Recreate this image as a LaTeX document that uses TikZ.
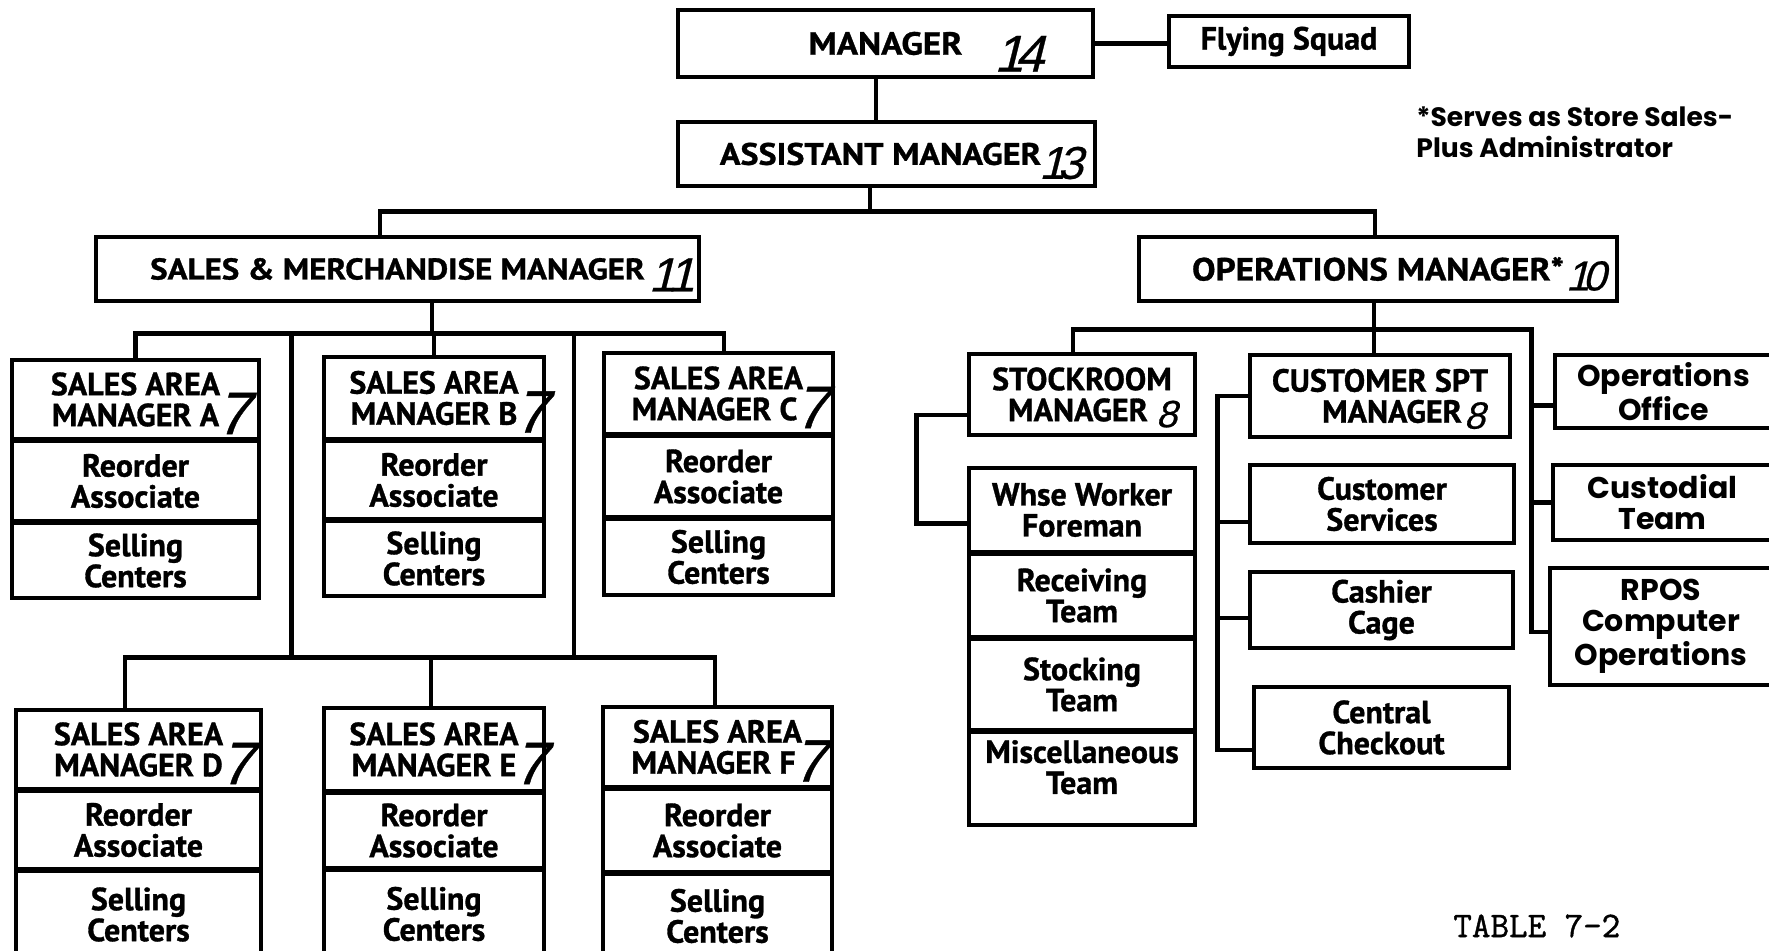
\documentclass[tikz,border=0pt]{standalone}
\usepackage{fontspec}
\setmainfont{PT Sans}[BoldFeatures={FakeBold=1}]
\newfontfamily\headfont{PT Sans}[FakeStretch=1.1,BoldFeatures={FakeBold=1}]
\newfontfamily\handfont{Liberation Sans}[FakeSlant=0.25,FakeBold=0.6]
\newfontfamily\geofont{Poppins}
\newfontfamily\twfont{Latin Modern Mono}[FakeBold=1.2]
\usetikzlibrary{calc}
% handwritten number: hspace, size, raise, text
\newcommand\hnum[4]{\rlap{\smash{\hspace*{#1}\raisebox{#3}{\handfont\mdseries\fontsize{#2}{#2}\selectfont #4}}}}
\newcommand\one{1\kern-0.16em}
\newcommand\sev{\hnum{-1.5pt}{30}{-4pt}{7}}
% box: [opts]{name}{x1}{y1}{x2}{y2}{text}
\newcommand\obox[7][]{\node[orgbox,#1,minimum width={(#5-#3)*0.5pt},minimum height={(#6-#4)*0.5pt}] (#2) at ({(#3+#5)/2},{(#4+#6)/2}) {#7};}
\begin{document}
\begin{tikzpicture}[x=0.5pt,y=-0.5pt,
  orgbox/.style={draw, line width=1.6pt, inner sep=0pt, align=center,
    font={\fontsize{16}{15.5}\selectfont\bfseries}},
  geo/.style={font={\geofont\fontsize{15}{15.5}\selectfont\bfseries}},
  big/.style={font={\headfont\fontsize{16}{16}\selectfont\bfseries}},
  conn/.style={line width=2.2pt, line cap=rect}]
\useasboundingbox (0,0) rectangle (1769,951);
\fill[white] (0,0) rectangle (1769,951);
\clip (0,0) rectangle (1769,951);

% top
\obox[big]{mgr}{678}{10}{1093}{77}{MANAGER\hnum{16pt}{26}{-8.5pt}{\one 4}}
\obox{fly}{1169}{16}{1409}{67}{Flying Squad}
\obox[big,font={\headfont\fontsize{15.5}{16}\selectfont\bfseries}]{asst}{678}{122}{1095}{186}{\hspace*{-6pt}ASSISTANT MANAGER\hnum{-1pt}{23}{-7pt}{\one 3}}
\obox[big,font={\headfont\fontsize{15}{16}\selectfont\bfseries}]{smm}{96}{237}{699}{301}{SALES \& MERCHANDISE MANAGER\hnum{2pt}{24}{-6pt}{\one\one}}
\obox[big]{om}{1139}{237}{1617}{301}{OPERATIONS MANAGER*\hnum{1pt}{21}{-5pt}{\one 0}}

% sales area managers, row 1
\obox{ah}{12}{360}{259}{439}{SALES AREA\\MANAGER A\sev}
\obox{ar}{12}{441}{259}{521}{Reorder\\Associate}
\obox{as}{12}{523}{259}{598}{Selling\\Centers}
\obox{bh}{324}{357}{544}{439}{SALES AREA\\MANAGER B\sev}
\obox{br}{324}{441}{544}{519}{Reorder\\Associate}
\obox{bs}{324}{521}{544}{596}{Selling\\Centers}
\obox{ch}{604}{353}{833}{434}{SALES AREA\\MANAGER C\sev\hspace*{4pt}}
\obox{cr}{604}{436}{833}{517}{Reorder\\Associate}
\obox{cs}{604}{519}{833}{595}{Selling\\Centers}
% row 2
\obox{dh}{16}{710}{261}{789}{SALES AREA\\MANAGER D\sev}
\obox{dr}{16}{791}{261}{869}{Reorder\\Associate}
\obox{ds}{16}{871}{261}{958}{Selling\\Centers}
\obox{eh}{324}{708}{544}{791}{SALES AREA\\MANAGER E\sev}
\obox{er}{324}{793}{544}{868}{Reorder\\Associate}
\obox{es}{324}{870}{544}{958}{Selling\\Centers}
\obox{fh}{603}{707}{832}{787}{SALES AREA\\MANAGER F\sev\hspace*{4pt}}
\obox{fr}{603}{789}{832}{872}{Reorder\\Associate}
\obox{fs}{603}{874}{832}{958}{Selling\\Centers}

% operations side
\obox{stock}{969}{354}{1195}{435}{STOCKROOM\\MANAGER \hnum{0pt}{19}{-3pt}{8}\hspace{12pt}}
\obox{whse}{969}{468}{1195}{552}{Whse Worker\\Foreman}
\obox{recv}{969}{554}{1195}{637}{Receiving\\Team}
\obox{stk}{969}{639}{1195}{730}{Stocking\\Team}
\obox{misc}{969}{732}{1195}{825}{Miscellaneous\\Team\\[-4pt]}
\obox{csm}{1250}{355}{1510}{437}{CUSTOMER SPT\\\hspace{12pt}MANAGER\hnum{1pt}{19}{-3pt}{8}\hspace{12pt}}
\obox{csv}{1250}{465}{1514}{543}{Customer\\Services}
\obox{cash}{1250}{572}{1513}{648}{Cashier\\Cage}
\obox{cent}{1254}{687}{1509}{768}{Central\\Checkout}
\obox[geo]{oo}{1555}{355}{1772}{428}{Operations\\Office}
\obox[geo]{cust}{1553}{465}{1772}{540}{Custodial\\Team}
\obox[geo]{rpos}{1550}{568}{1772}{685}{RPOS\\Computer\\Operations}

% notes
\node[align=left, anchor=north west, inner sep=0pt, font={\geofont\fontsize{13.3}{15.5}\selectfont\bfseries}] (note) at (1416,106) {*Serves as Store Sales-\\Plus Administrator};
\node[anchor=west, inner sep=0pt, font={\twfont\fontsize{18}{18}\selectfont}] (tab) at (1453,926) {TABLE 7-2};

% ---- connectors ----
\draw[conn] (mgr.east) -- (mgr.east -| fly.west);
\path ([xshift=-4.75pt]mgr.south) coordinate (ma);
\draw[conn] (ma) -- (ma |- asst.north);

\path ([xshift=-8.25pt]asst.south) coordinate (adrop);
\path ([yshift=-12pt]adrop) coordinate (bus1);
\path ([xshift=-8.75pt]smm.north) coordinate (smmin);
\path ([xshift=-1.5pt]om.north) coordinate (omin);
\draw[conn] (adrop) -- (bus1);
\draw[conn] (smmin) |- (bus1 -| omin) -- (omin);

% sales bus
\path ([xshift=17.25pt]smm.south) coordinate (sdrop);
\path ([yshift=-15.5pt]sdrop) coordinate (sbus);
\path ([xshift=2.75pt]ch.north) coordinate (cin);
\draw[conn] (sdrop) -- (sbus);
\draw[conn] (ah.north) |- (sbus -| cin) -- (cin);
\draw[conn] (bh.north) -- (bh.north |- sbus);
\coordinate (v1) at ($(ah.north east)!0.5!(bh.north west)$);
\coordinate (v2) at ($(bh.north east)!0.5!(ch.north west)$);
\path ([xshift=-6.75pt]dh.north) coordinate (din);
\path ([xshift=-1.5pt]eh.north) coordinate (ein);
\path ([xshift=-1.25pt]fh.north) coordinate (fin);
\path ([yshift=24.5pt]ein) coordinate (lbus);
\draw[conn] (din) |- (lbus -| fin) -- (fin);
\draw[conn] (ein) -- (lbus);
\draw[conn] (v1 |- sbus) -- (v1 |- lbus);
\draw[conn] (v2 |- sbus) -- (v2 |- lbus);

% operations bus
\path ([xshift=-2pt]om.south) coordinate (odrop);
\path ([yshift=-13.5pt]odrop) coordinate (obus);
\path ([xshift=-4.5pt]stock.north) coordinate (stin);
\path ([xshift=-3pt]csm.north) coordinate (csmin);
\path ([xshift=-11pt]oo.west) coordinate (rtrunk);
\path ([yshift=-7pt]oo.west) coordinate (ooin);
\path ([yshift=-2.75pt]rpos.west) coordinate (rposin);
\draw[conn] (odrop) -- (obus);
\draw[conn] (stin) |- (obus -| rtrunk) -- (rtrunk |- rposin) -- (rposin);
\draw[conn] (csmin) -- (csmin |- obus);
\draw[conn] (rtrunk |- ooin) -- (ooin);
\draw[conn] (rtrunk |- cust.west) -- (cust.west);

% stockroom link
\path ([yshift=-10.25pt]stock.west) coordinate (sl1);
\path ([yshift=-6.75pt]whse.west) coordinate (sl2);
\path ([xshift=-25.5pt]sl1) coordinate (sx);
\draw[conn] (sl1) -- (sx) |- (sl2);

% customer support trunk
\path ([xshift=-15.5pt]csm.west) coordinate (cx);
\path ([yshift=-9pt]csv.west) coordinate (cs1);
\path ([yshift=-4pt]cash.west) coordinate (cs2);
\path ([yshift=-11.25pt]cent.west) coordinate (cs3);
\draw[conn] (csm.west) -- (cx) |- (cs3);
\draw[conn] (cx |- cs1) -- (cs1);
\draw[conn] (cx |- cs2) -- (cs2);
\end{tikzpicture}
\end{document}
